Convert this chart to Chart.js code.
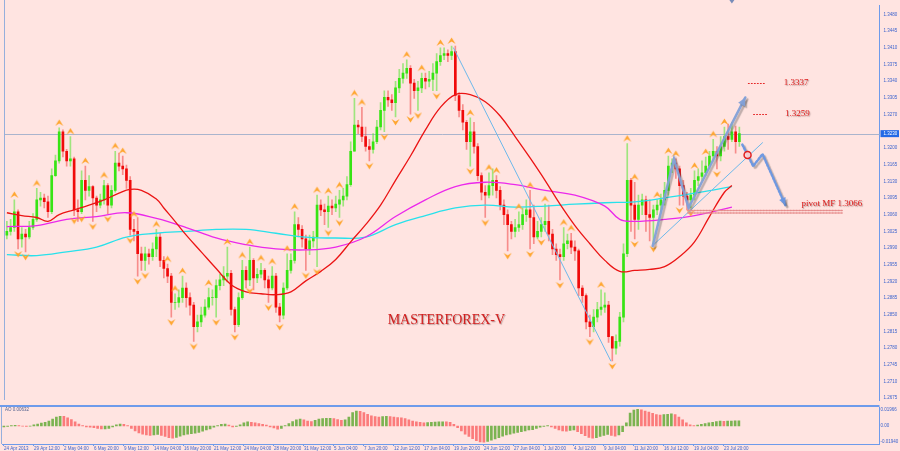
<!DOCTYPE html>
<html>
<head>
  <title>EURUSD H4 - MASTERFOREX-V</title>
  <script src="https://cdn.jsdelivr.net/npm/chart.js"></script>
  <style>
    body { margin: 0; background: #ffe4e1; }
    #wrap { position: relative; width: 900px; height: 451px; overflow: hidden; }
    canvas { position: absolute; left: 0; }
  </style>
</head>
<body>
<div id="wrap">
  <canvas id="mainChart" width="900" height="405" style="top:0px"></canvas>
  <canvas id="aoChart" width="900" height="46" style="top:405px"></canvas>
</div>
<script>
  // 8-hour candles (open = previous close)
  const firstOpen = 1.3017;
  const closes = [
    1.3025, 1.3033, 1.3066, 1.3009, 1.3019, 1.3013, 1.3033, 1.3050, 1.3091, 1.3095,
    1.3087, 1.3066, 1.3142, 1.3173, 1.3234, 1.3193, 1.3173, 1.3177, 1.3070, 1.3066,
    1.3132, 1.3111, 1.3119, 1.3095, 1.3080, 1.3091, 1.3121, 1.3080, 1.3111, 1.3168,
    1.3162, 1.3156, 1.3132, 1.3029, 1.3025, 1.2978, 1.2964, 1.2978, 1.2972, 1.2988,
    1.3013, 1.2964, 1.2947, 1.2931, 1.2876, 1.2876, 1.2886, 1.2906, 1.2886, 1.2870,
    1.2825, 1.2835, 1.2849, 1.2866, 1.2886, 1.2886, 1.2911, 1.2923, 1.2931, 1.2937,
    1.2861, 1.2829, 1.2886, 1.2943, 1.2923, 1.2964, 1.2927, 1.2935, 1.2943, 1.2923,
    1.2906, 1.2931, 1.2866, 1.2849, 1.2906, 1.2943, 1.2964, 1.3039, 1.3029, 1.3009,
    1.2988, 1.3005, 1.3013, 1.3080, 1.3070, 1.3066, 1.3078, 1.3074, 1.3082, 1.3091,
    1.3099, 1.3123, 1.3193, 1.3248, 1.3244, 1.3224, 1.3203, 1.3197, 1.3213, 1.3244,
    1.3279, 1.3306, 1.3301, 1.3295, 1.3326, 1.3346, 1.3357, 1.3367, 1.3336, 1.3320,
    1.3326, 1.3346, 1.3340, 1.3344, 1.3357, 1.3381, 1.3394, 1.3398, 1.3394, 1.3402,
    1.3310, 1.3279, 1.3254, 1.3213, 1.3234, 1.3203, 1.3142, 1.3107, 1.3101, 1.3121,
    1.3132, 1.3111, 1.3080, 1.3060, 1.3039, 1.3025, 1.3033, 1.3039, 1.3060, 1.3070,
    1.3054, 1.3013, 1.3025, 1.3039, 1.3046, 1.3019, 1.2988, 1.2976, 1.2972, 1.2999,
    1.3005, 1.2992, 1.2984, 1.2906, 1.2890, 1.2835, 1.2825, 1.2845, 1.2861, 1.2866,
    1.2870, 1.2804, 1.2780, 1.2794, 1.2845, 1.2978, 1.3132, 1.3080, 1.3050, 1.3080,
    1.3091, 1.3060, 1.3054, 1.3070, 1.3080, 1.3091, 1.3111, 1.3162, 1.3168, 1.3156,
    1.3121, 1.3099, 1.3091, 1.3101, 1.3132, 1.3140, 1.3148, 1.3162, 1.3183, 1.3193,
    1.3183, 1.3203, 1.3224, 1.3218, 1.3234, 1.3213, 1.3230
  ];
  const highs = [
    1.3046, 1.3050, 1.3091, 1.3070, 1.3033, 1.3029, 1.3046, 1.3062, 1.3115, 1.3107,
    1.3103, 1.3099, 1.3156, 1.3185, 1.3242, 1.3238, 1.3197, 1.3224, 1.3181, 1.3091,
    1.3152, 1.3162, 1.3142, 1.3121, 1.3099, 1.3103, 1.3132, 1.3125, 1.3121, 1.3193,
    1.3189, 1.3183, 1.3164, 1.3140, 1.3050, 1.3054, 1.2992, 1.2992, 1.2988, 1.3001,
    1.3029, 1.3021, 1.2972, 1.2956, 1.2937, 1.2894, 1.2902, 1.2931, 1.2917, 1.2896,
    1.2876, 1.2849, 1.2866, 1.2882, 1.2906, 1.2902, 1.2923, 1.2935, 1.2951, 1.2992,
    1.2943, 1.2866, 1.2896, 1.2964, 1.2951, 1.2992, 1.2968, 1.2947, 1.2958, 1.2947,
    1.2931, 1.2951, 1.2937, 1.2874, 1.2917, 1.2978, 1.2978, 1.3066, 1.3054, 1.3037,
    1.3017, 1.3017, 1.3025, 1.3101, 1.3091, 1.3082, 1.3099, 1.3091, 1.3099, 1.3111,
    1.3115, 1.3140, 1.3213, 1.3304, 1.3258, 1.3285, 1.3244, 1.3218, 1.3230, 1.3258,
    1.3295, 1.3320, 1.3320, 1.3312, 1.3340, 1.3365, 1.3377, 1.3385, 1.3373, 1.3344,
    1.3340, 1.3357, 1.3357, 1.3361, 1.3377, 1.3398, 1.3410, 1.3410, 1.3406, 1.3414,
    1.3414, 1.3316, 1.3291, 1.3258, 1.3263, 1.3254, 1.3209, 1.3148, 1.3121, 1.3148,
    1.3156, 1.3142, 1.3119, 1.3091, 1.3070, 1.3046, 1.3050, 1.3066, 1.3074, 1.3091,
    1.3111, 1.3080, 1.3046, 1.3054, 1.3082, 1.3080, 1.3029, 1.2999, 1.2988, 1.3033,
    1.3019, 1.3021, 1.3005, 1.2988, 1.2911, 1.2894, 1.2849, 1.2861, 1.2876, 1.2902,
    1.2896, 1.2878, 1.2804, 1.2808, 1.2855, 1.2999, 1.3209, 1.3136, 1.3128, 1.3101,
    1.3103, 1.3099, 1.3091, 1.3080, 1.3091, 1.3103, 1.3128, 1.3183, 1.3177, 1.3177,
    1.3162, 1.3132, 1.3107, 1.3115, 1.3152, 1.3156, 1.3173, 1.3181, 1.3193, 1.3218,
    1.3203, 1.3224, 1.3244, 1.3250, 1.3254, 1.3246, 1.3244
  ];
  const lows = [
    1.3009, 1.3017, 1.3025, 1.2988, 1.2992, 1.2982, 1.3009, 1.3029, 1.3046, 1.3078,
    1.3074, 1.3054, 1.3062, 1.3140, 1.3168, 1.3181, 1.3162, 1.3162, 1.3058, 1.3046,
    1.3062, 1.3091, 1.3099, 1.3046, 1.3066, 1.3074, 1.3082, 1.3062, 1.3074, 1.3107,
    1.3152, 1.3144, 1.3115, 1.3017, 1.3005, 1.2931, 1.2943, 1.2943, 1.2956, 1.2964,
    1.2972, 1.2951, 1.2927, 1.2917, 1.2845, 1.2861, 1.2866, 1.2876, 1.2866, 1.2849,
    1.2794, 1.2814, 1.2825, 1.2845, 1.2861, 1.2870, 1.2845, 1.2902, 1.2911, 1.2919,
    1.2849, 1.2814, 1.2825, 1.2882, 1.2906, 1.2911, 1.2902, 1.2917, 1.2927, 1.2906,
    1.2876, 1.2902, 1.2855, 1.2835, 1.2841, 1.2902, 1.2937, 1.2958, 1.3013, 1.2992,
    1.2943, 1.2976, 1.2992, 1.2951, 1.3058, 1.3039, 1.3033, 1.3060, 1.3066, 1.3054,
    1.3078, 1.3091, 1.3119, 1.3193, 1.3230, 1.3213, 1.3193, 1.3173, 1.3189, 1.3209,
    1.3238, 1.3234, 1.3287, 1.3279, 1.3265, 1.3316, 1.3336, 1.3346, 1.3271, 1.3304,
    1.3279, 1.3316, 1.3324, 1.3328, 1.3320, 1.3320, 1.3373, 1.3385, 1.3381, 1.3385,
    1.3299, 1.3265, 1.3238, 1.3197, 1.3162, 1.3189, 1.3132, 1.3091, 1.3054, 1.3095,
    1.3101, 1.3095, 1.3070, 1.3039, 1.2984, 1.3009, 1.3013, 1.3025, 1.3029, 1.3046,
    1.2988, 1.2999, 1.3009, 1.3013, 1.3025, 1.3005, 1.2976, 1.2964, 1.2923, 1.2964,
    1.2988, 1.2978, 1.2964, 1.2890, 1.2876, 1.2820, 1.2804, 1.2814, 1.2835, 1.2849,
    1.2855, 1.2792, 1.2753, 1.2767, 1.2784, 1.2835, 1.2972, 1.3025, 1.3009, 1.3029,
    1.3060, 1.3025, 1.3005, 1.2999, 1.3060, 1.3066, 1.3080, 1.3101, 1.3148, 1.3136,
    1.3080, 1.3080, 1.3070, 1.3074, 1.3091, 1.3121, 1.3132, 1.3142, 1.3156, 1.3173,
    1.3156, 1.3173, 1.3193, 1.3197, 1.3213, 1.3189, 1.3203
  ];

  // moving averages, read at the listed candle positions
  const redMaIdx = [0, 4, 8, 11, 14, 18, 22, 26, 30, 33, 36, 40, 42, 45, 48, 52, 56, 60, 64, 68, 72, 76, 80, 84, 88, 92, 96, 100, 104, 108, 112, 116, 120, 124, 128, 132, 136, 140, 144, 148, 152, 156, 160, 164, 168, 172, 176, 180, 184, 188, 192, 194];
  const redMaVals = [1.3064, 1.3058, 1.3054, 1.3046, 1.3060, 1.3070, 1.3080, 1.3091, 1.3105, 1.3113, 1.3111, 1.3093, 1.3074, 1.3046, 1.3017, 1.2982, 1.2947, 1.2913, 1.2898, 1.2894, 1.2892, 1.2898, 1.2921, 1.2941, 1.2966, 1.3003, 1.3039, 1.3080, 1.3132, 1.3183, 1.3238, 1.3285, 1.3312, 1.3312, 1.3297, 1.3267, 1.3224, 1.3179, 1.3132, 1.3082, 1.3037, 1.2999, 1.2964, 1.2941, 1.2943, 1.2945, 1.2951, 1.2972, 1.3003, 1.3056, 1.3107, 1.3121];
  const pinkMaIdx = [0, 8, 16, 24, 32, 40, 48, 56, 64, 72, 80, 88, 96, 104, 112, 120, 128, 136, 144, 152, 160, 164, 168, 176, 184, 194];
  const pinkMaVals = [1.3035, 1.3037, 1.3050, 1.3056, 1.3064, 1.3052, 1.3033, 1.3011, 1.2997, 1.2988, 1.2986, 1.2992, 1.3013, 1.3056, 1.3091, 1.3119, 1.3128, 1.3123, 1.3111, 1.3101, 1.3078, 1.3050, 1.3046, 1.3050, 1.3058, 1.3076];
  const cyanMaIdx = [0, 8, 16, 24, 32, 40, 48, 56, 64, 72, 80, 88, 96, 104, 112, 120, 128, 136, 144, 152, 160, 168, 176, 184, 194];
  const cyanMaVals = [1.2976, 1.2974, 1.2982, 1.2992, 1.3013, 1.3021, 1.3025, 1.3029, 1.3029, 1.3021, 1.3013, 1.3011, 1.3013, 1.3039, 1.3058, 1.3074, 1.3080, 1.3076, 1.3078, 1.3082, 1.3085, 1.3087, 1.3095, 1.3105, 1.3119];

  // fractal marks (candle positions)
  const upFractals = [2, 8, 14, 17, 21, 26, 29, 31, 34, 40, 43, 45, 47, 54, 59, 63, 65, 68, 71, 75, 77, 83, 86, 89, 93, 95, 107, 111, 116, 119, 124, 129, 131, 137, 140, 144, 149, 151, 159, 166, 168, 174, 177, 179, 184, 187, 189, 192];
  const downFractals = [3, 5, 18, 20, 23, 27, 33, 35, 37, 44, 50, 56, 61, 65, 70, 73, 80, 83, 86, 89, 97, 101, 104, 108, 110, 115, 124, 128, 134, 140, 143, 148, 156, 162, 168, 173, 180, 183, 190];

  // Awesome Oscillator
  const aoValues = [
    -0.0012, -0.0006, 0.0005, 0.0008, 0.0004, -0.0003, -0.0005, -0.0002, 0.0015, 0.0025,
    0.0035, 0.0045, 0.0060, 0.0085, 0.0110, 0.0120, 0.0118, 0.0100, 0.0080, 0.0050,
    0.0025, 0.0005, -0.0010, -0.0015, -0.0020, -0.0030, -0.0035, -0.0035, -0.0030, -0.0010,
    0.0015, 0.0025, 0.0020, 0.0005, -0.0030, -0.0060, -0.0085, -0.0100, -0.0110, -0.0115,
    -0.0110, -0.0105, -0.0115, -0.0130, -0.0145, -0.0150, -0.0140, -0.0125, -0.0110, -0.0100,
    -0.0095, -0.0090, -0.0080, -0.0065, -0.0050, -0.0035, -0.0015, 0.0005, 0.0020, 0.0025,
    0.0010, -0.0010, -0.0005, 0.0015, 0.0040, 0.0050, 0.0045, 0.0040, 0.0030, 0.0020,
    0.0010, -0.0010, -0.0025, -0.0040, -0.0030, 0.0005, 0.0030, 0.0055, 0.0075, 0.0085,
    0.0075, 0.0060, 0.0055, 0.0070, 0.0085, 0.0090, 0.0095, 0.0095, 0.0090, 0.0080,
    0.0070, 0.0075, 0.0110, 0.0165, 0.0185, 0.0180, 0.0165, 0.0145, 0.0125, 0.0115,
    0.0110, 0.0115, 0.0120, 0.0115, 0.0110, 0.0105, 0.0100, 0.0090, 0.0075, 0.0060,
    0.0050, 0.0045, 0.0040, 0.0042, 0.0045, 0.0048, 0.0050, 0.0052, 0.0050, 0.0045,
    0.0020, -0.0020, -0.0060, -0.0100, -0.0130, -0.0155, -0.0180, -0.0195, -0.0200, -0.0190,
    -0.0175, -0.0160, -0.0145, -0.0125, -0.0110, -0.0100, -0.0090, -0.0080, -0.0070, -0.0060,
    -0.0050, -0.0045, -0.0030, -0.0015, -0.0005, 0.0005, -0.0010, -0.0030, -0.0050, -0.0060,
    -0.0065, -0.0055, -0.0050, -0.0070, -0.0095, -0.0120, -0.0140, -0.0150, -0.0145, -0.0130,
    -0.0115, -0.0105, -0.0115, -0.0125, -0.0110, -0.0070, 0.0040, 0.0160, 0.0195, 0.0205,
    0.0200, 0.0185, 0.0170, 0.0155, 0.0140, 0.0135, 0.0140, 0.0145, 0.0150, 0.0140,
    0.0110, 0.0075, 0.0040, 0.0015, 0.0005, 0.0010, 0.0020, 0.0030, 0.0040, 0.0045,
    0.0055, 0.0060, 0.0058, 0.0060, 0.0062, 0.0063, 0.0063
  ];

  const xTickLabels = ['24 Apr 2013', '29 Apr 12:00', '2 May 04:00', '6 May 20:00', '9 May 12:00', '14 May 04:00', '16 May 20:00', '21 May 12:00', '24 May 04:00', '28 May 20:00', '31 May 12:00', '5 Jun 04:00', '7 Jun 20:00', '12 Jun 12:00', '17 Jun 04:00', '19 Jun 20:00', '24 Jun 12:00', '27 Jun 04:00', '1 Jul 20:00', '4 Jul 12:00', '9 Jul 04:00', '11 Jul 20:00', '16 Jul 12:00', '19 Jul 04:00', '23 Jul 20:00'];
  const yTickValues = [1.2675, 1.2710, 1.2745, 1.2780, 1.2815, 1.2850, 1.2885, 1.2920, 1.2955, 1.2990, 1.3025, 1.3060, 1.3095, 1.3130, 1.3165, 1.3200, 1.3270, 1.3305, 1.3340, 1.3375, 1.3410, 1.3445, 1.3480];
  const aoTickValues = [-0.0194, 0, 0.01966];
  const lastPrice = 1.3230;
  const aoLast = '0.00632';

  // hand-drawn objects on the chart: [candle position, price]
  const zigzagLine = [[119.5, 1.3410], [161.6, 1.2753]];
  const channelLine = [[172.8, 1.2995], [202.2, 1.3211]];
  const waveArrow = [[172.8, 1.2994], [178.5, 1.3177], [182.4, 1.3074], [197.6, 1.3306]];
  const forecastPath = [[196.8, 1.3207], [199.7, 1.3162], [202.2, 1.3187], [208.3, 1.3080]];
  const forecastMark = [198.2, 1.3185];
  const targets = [
    { from: 198.4, to: 202.7, textAt: 207.9, price: 1.3337, text: '1.3337' },
    { from: 199.8, to: 203.5, textAt: 208.2, price: 1.3271, text: '1.3259' }
  ];
  const pivot = { from: 182.2, to: 223.5, textAt: 212.6, price: 1.3066, text: 'pivot MF 1.3066' };
  const watermark = { at: 117.6, price: 1.2839, text: 'MASTERFOREX-V' };

  const N = 234;
  const bg = '#ffe4e1';
  const axisBlue = 'rgb(110,155,235)';
  const tickColor = 'rgb(60,100,205)';
  const tickFont = { family: 'Liberation Sans, Arial, sans-serif', size: 4.5 };

  const labels = [];
  for (let i = 0; i < N; i++) {
    labels.push(i % 8 === 0 && xTickLabels[i / 8] ? xTickLabels[i / 8] : '');
  }
  const opens = closes.map((c, i) => i === 0 ? firstOpen : closes[i - 1]);
  const isBull = i => closes[i] >= opens[i];

  function sparse(idx, vals) {
    const a = new Array(N).fill(null);
    idx.forEach((k, j) => { a[k] = vals[j]; });
    return a;
  }

  function arrowImg(up) {
    const c = document.createElement('canvas');
    c.width = 9; c.height = 18;
    const g = c.getContext('2d');
    g.fillStyle = 'rgb(255,165,45)';
    g.beginPath();
    if (up) {
      g.moveTo(0.5, 7); g.lineTo(4.5, 0.5); g.lineTo(8.5, 7); g.lineTo(4.5, 4.5);
    } else {
      g.moveTo(0.5, 11); g.lineTo(4.5, 17.5); g.lineTo(8.5, 11); g.lineTo(4.5, 13.5);
    }
    g.closePath();
    g.fill();
    return c;
  }

  function polyline(ctx, chart, pts) {
    const x = chart.scales.x, y = chart.scales.y;
    ctx.beginPath();
    pts.forEach((p, i) => {
      const px = x.getPixelForValue(p[0]), py = y.getPixelForValue(p[1]);
      if (i === 0) ctx.moveTo(px, py); else ctx.lineTo(px, py);
    });
    ctx.stroke();
  }

  function arrowHead(ctx, chart, a, b, size, color) {
    const x = chart.scales.x, y = chart.scales.y;
    const x1 = x.getPixelForValue(a[0]), y1 = y.getPixelForValue(a[1]);
    const x2 = x.getPixelForValue(b[0]), y2 = y.getPixelForValue(b[1]);
    const ang = Math.atan2(y2 - y1, x2 - x1);
    ctx.fillStyle = color;
    ctx.beginPath();
    ctx.moveTo(x2, y2);
    ctx.lineTo(x2 - size * Math.cos(ang - 0.45), y2 - size * Math.sin(ang - 0.45));
    ctx.lineTo(x2 - size * Math.cos(ang + 0.45), y2 - size * Math.sin(ang + 0.45));
    ctx.closePath();
    ctx.fill();
  }

  const mainDecor = {
    id: 'mainDecor',
    beforeDraw(chart) {
      const ctx = chart.ctx;
      ctx.save();
      ctx.fillStyle = bg;
      ctx.fillRect(0, 0, chart.width, chart.height);
      ctx.restore();
    },
    beforeDatasetsDraw(chart) {
      const ctx = chart.ctx, area = chart.chartArea;
      const py = Math.round(chart.scales.y.getPixelForValue(lastPrice)) + 0.5;
      ctx.save();
      ctx.strokeStyle = 'rgb(170,180,205)';
      ctx.lineWidth = 1;
      ctx.beginPath();
      ctx.moveTo(area.left, py);
      ctx.lineTo(area.right, py);
      ctx.stroke();
      ctx.restore();
    },
    afterDatasetsDraw(chart) {
      const ctx = chart.ctx, xs = chart.scales.x, ys = chart.scales.y;
      ctx.save();
      ctx.lineCap = 'round';

      // thin trend lines
      ctx.strokeStyle = 'rgb(110,185,235)';
      ctx.lineWidth = 1;
      polyline(ctx, chart, zigzagLine);
      polyline(ctx, chart, channelLine);

      // wave arrow with shadow
      ctx.shadowColor = 'rgba(60,60,60,0.35)';
      ctx.shadowOffsetX = 2; ctx.shadowOffsetY = 2; ctx.shadowBlur = 1;
      ctx.strokeStyle = 'rgba(130,160,215,0.95)';
      ctx.lineWidth = 2.5;
      polyline(ctx, chart, waveArrow);
      arrowHead(ctx, chart, waveArrow[2], waveArrow[3], 9, 'rgba(130,160,215,0.95)');

      // forecast dotted path
      ctx.setLineDash([2, 1.6]);
      ctx.strokeStyle = 'rgba(105,150,225,0.95)';
      ctx.lineWidth = 2.5;
      polyline(ctx, chart, forecastPath);
      ctx.setLineDash([]);
      arrowHead(ctx, chart, forecastPath[2], forecastPath[3], 8, 'rgba(105,150,225,0.95)');
      ctx.shadowColor = 'transparent';

      // red circle
      ctx.strokeStyle = 'rgb(225,30,30)';
      ctx.fillStyle = 'rgba(255,210,210,0.9)';
      ctx.lineWidth = 1.5;
      ctx.beginPath();
      ctx.arc(xs.getPixelForValue(forecastMark[0]), ys.getPixelForValue(forecastMark[1]), 3.5, 0, Math.PI * 2);
      ctx.fill(); ctx.stroke();

      // pivot line
      const pvy = ys.getPixelForValue(pivot.price);
      ctx.setLineDash([1.5, 1.5]);
      ctx.lineWidth = 1.5;
      ctx.strokeStyle = 'rgb(230,140,140)';
      [-1.2, 1.2].forEach(d => {
        ctx.beginPath();
        ctx.moveTo(xs.getPixelForValue(pivot.from), pvy + d);
        ctx.lineTo(xs.getPixelForValue(pivot.to), pvy + d);
        ctx.stroke();
      });

      // target levels
      ctx.setLineDash([1, 2]);
      ctx.lineWidth = 1;
      ctx.strokeStyle = 'rgb(230,40,40)';
      targets.forEach(t => {
        const ty = Math.round(ys.getPixelForValue(t.price)) + 0.5;
        ctx.beginPath();
        ctx.moveTo(xs.getPixelForValue(t.from), ty);
        ctx.lineTo(xs.getPixelForValue(t.to), ty);
        ctx.stroke();
      });
      ctx.setLineDash([]);

      // texts
      ctx.shadowColor = 'rgba(90,60,60,0.45)';
      ctx.shadowOffsetX = 1; ctx.shadowOffsetY = 1; ctx.shadowBlur = 1;
      ctx.fillStyle = 'rgb(220,25,25)';
      ctx.textBaseline = 'middle';
      ctx.textAlign = 'left';
      ctx.font = '9px "Liberation Serif", "Times New Roman", serif';
      targets.forEach(t => {
        ctx.fillText(t.text, xs.getPixelForValue(t.textAt), ys.getPixelForValue(t.price));
      });
      ctx.textBaseline = 'bottom';
      ctx.fillText(pivot.text, xs.getPixelForValue(pivot.textAt), pvy - 4);
      ctx.textBaseline = 'middle';
      ctx.textAlign = 'center';
      ctx.font = '14px "Liberation Serif", "Times New Roman", serif';
      ctx.fillStyle = 'rgb(210,30,30)';
      ctx.fillText(watermark.text, xs.getPixelForValue(watermark.at), ys.getPixelForValue(watermark.price));
      ctx.restore();
    },
    afterDraw(chart) {
      const ctx = chart.ctx, area = chart.chartArea;
      ctx.save();
      // left border
      ctx.strokeStyle = 'rgb(150,175,220)';
      ctx.lineWidth = 1;
      ctx.beginPath();
      ctx.moveTo(area.left - 0.5, 0);
      ctx.lineTo(area.left - 0.5, area.bottom);
      ctx.stroke();
      // current price box
      const py = chart.scales.y.getPixelForValue(lastPrice);
      ctx.fillStyle = 'rgb(35,105,230)';
      ctx.fillRect(area.right + 1, py - 3.5, 898 - area.right, 7);
      ctx.fillStyle = '#fff';
      ctx.font = '4.5px "Liberation Sans", Arial, sans-serif';
      ctx.textBaseline = 'middle';
      ctx.textAlign = 'left';
      ctx.fillText(lastPrice.toFixed(4), area.right + 4, py);
      // chart shift marker
      const sx = chart.scales.x.getPixelForValue(194);
      ctx.fillStyle = 'rgb(120,140,185)';
      ctx.beginPath();
      ctx.moveTo(sx - 2.5, 0); ctx.lineTo(sx + 2.5, 0); ctx.lineTo(sx, 3.5);
      ctx.closePath(); ctx.fill();
      ctx.restore();
    }
  };

  new Chart(document.getElementById('mainChart'), {
    type: 'bar',
    data: {
      labels: labels,
      datasets: [
        {
          type: 'line', label: 'MA fast', data: sparse(redMaIdx, redMaVals),
          borderColor: 'rgb(235,20,20)', borderWidth: 1.3, pointRadius: 0,
          spanGaps: true, tension: 0.4, order: 1
        },
        {
          type: 'line', label: 'MA mid', data: sparse(pinkMaIdx, pinkMaVals),
          borderColor: 'rgb(235,40,235)', borderWidth: 1.3, pointRadius: 0,
          spanGaps: true, tension: 0.4, order: 1
        },
        {
          type: 'line', label: 'MA slow', data: sparse(cyanMaIdx, cyanMaVals),
          borderColor: 'rgb(40,225,235)', borderWidth: 1.3, pointRadius: 0,
          spanGaps: true, tension: 0.4, order: 1
        },
        {
          type: 'line', label: 'Fractal up', data: sparse(upFractals, upFractals.map(i => highs[i])),
          showLine: false, pointStyle: arrowImg(true), pointRadius: 3, order: 0
        },
        {
          type: 'line', label: 'Fractal down', data: sparse(downFractals, downFractals.map(i => lows[i])),
          showLine: false, pointStyle: arrowImg(false), pointRadius: 3, order: 0
        },
        {
          label: 'wicks', data: highs.map((h, i) => [lows[i], h]),
          backgroundColor: ctx => isBull(ctx.dataIndex) ? 'rgba(95,230,60,0.6)' : 'rgba(240,70,70,0.55)',
          barThickness: 1, grouped: false, order: 3
        },
        {
          label: 'bodies', data: closes.map((c, i) => [opens[i], c]),
          backgroundColor: ctx => isBull(ctx.dataIndex) ? 'rgb(55,228,20)' : 'rgb(240,10,10)',
          barThickness: 2, grouped: false, order: 2
        }
      ]
    },
    options: {
      responsive: false,
      animation: false,
      layout: { padding: { left: 2, right: 0, top: 0, bottom: 0 } },
      plugins: { legend: { display: false }, tooltip: { enabled: false } },
      scales: {
        x: { display: false },
        y: {
          position: 'right',
          min: 1.2671,
          max: 1.3500,
          beginAtZero: false,
          afterBuildTicks: s => { s.ticks = yTickValues.map(v => ({ value: v })); },
          afterFit: s => { s.width = 20.5; s.paddingTop = 0; s.paddingBottom = 0; },
          grid: { display: false, drawTicks: false, tickLength: 0 },
          border: { display: true, color: axisBlue, width: 1 },
          ticks: { autoSkip: false, padding: 4, font: tickFont, color: tickColor, callback: v => v.toFixed(4) }
        }
      }
    },
    plugins: [mainDecor]
  });

  const aoDecor = {
    id: 'aoDecor',
    beforeDraw(chart) {
      const ctx = chart.ctx;
      ctx.save();
      ctx.fillStyle = bg;
      ctx.fillRect(0, 0, chart.width, chart.height);
      ctx.restore();
    },
    afterDraw(chart) {
      const ctx = chart.ctx, area = chart.chartArea;
      ctx.save();
      ctx.strokeStyle = axisBlue;
      ctx.lineWidth = 2;
      ctx.beginPath();
      ctx.moveTo(0, 1); ctx.lineTo(area.right, 1);
      ctx.stroke();
      ctx.strokeStyle = 'rgb(150,175,220)';
      ctx.lineWidth = 1;
      ctx.beginPath();
      ctx.moveTo(area.left - 0.5, 2); ctx.lineTo(area.left - 0.5, area.bottom);
      ctx.stroke();
      ctx.fillStyle = 'rgb(80,95,140)';
      ctx.font = '4.5px "Liberation Sans", Arial, sans-serif';
      ctx.textBaseline = 'middle';
      ctx.textAlign = 'left';
      ctx.fillText('AO ' + aoLast, area.left + 3, area.top + 3);
      ctx.restore();
    }
  };

  new Chart(document.getElementById('aoChart'), {
    type: 'bar',
    data: {
      labels: labels,
      datasets: [{
        label: 'AO',
        data: aoValues,
        backgroundColor: ctx => {
          const i = ctx.dataIndex;
          return i > 0 && aoValues[i] < aoValues[i - 1] ? 'rgba(250,105,105,0.85)' : 'rgba(100,170,55,0.85)';
        },
        barThickness: 2
      }]
    },
    options: {
      responsive: false,
      animation: false,
      layout: { padding: { left: 2, right: 0, top: 2, bottom: 0 } },
      plugins: { legend: { display: false }, tooltip: { enabled: false } },
      scales: {
        x: {
          afterBuildTicks: s => { s.ticks = s.ticks.filter(t => labels[t.value] !== ''); },
          afterFit: s => { s.height = 7; s.paddingLeft = 0; s.paddingRight = 0; },
          grid: { display: true, drawOnChartArea: false, drawTicks: true, tickLength: 2, offset: false, color: axisBlue },
          border: { display: true, color: axisBlue, width: 1 },
          ticks: { autoSkip: false, maxRotation: 0, minRotation: 0, align: 'start', padding: 0, font: tickFont, color: tickColor }
        },
        y: {
          position: 'right',
          min: -0.0222,
          max: 0.0234,
          afterBuildTicks: s => { s.ticks = aoTickValues.map(v => ({ value: v })); },
          afterFit: s => { s.width = 20.5; s.paddingTop = 0; s.paddingBottom = 0; },
          grid: { display: false, drawTicks: false, tickLength: 0 },
          border: { display: true, color: axisBlue, width: 1 },
          ticks: { autoSkip: false, padding: 1, font: tickFont, color: tickColor, callback: v => v === 0 ? '0.00' : v.toFixed(5) }
        }
      }
    },
    plugins: [aoDecor]
  });
</script>
</body>
</html>
